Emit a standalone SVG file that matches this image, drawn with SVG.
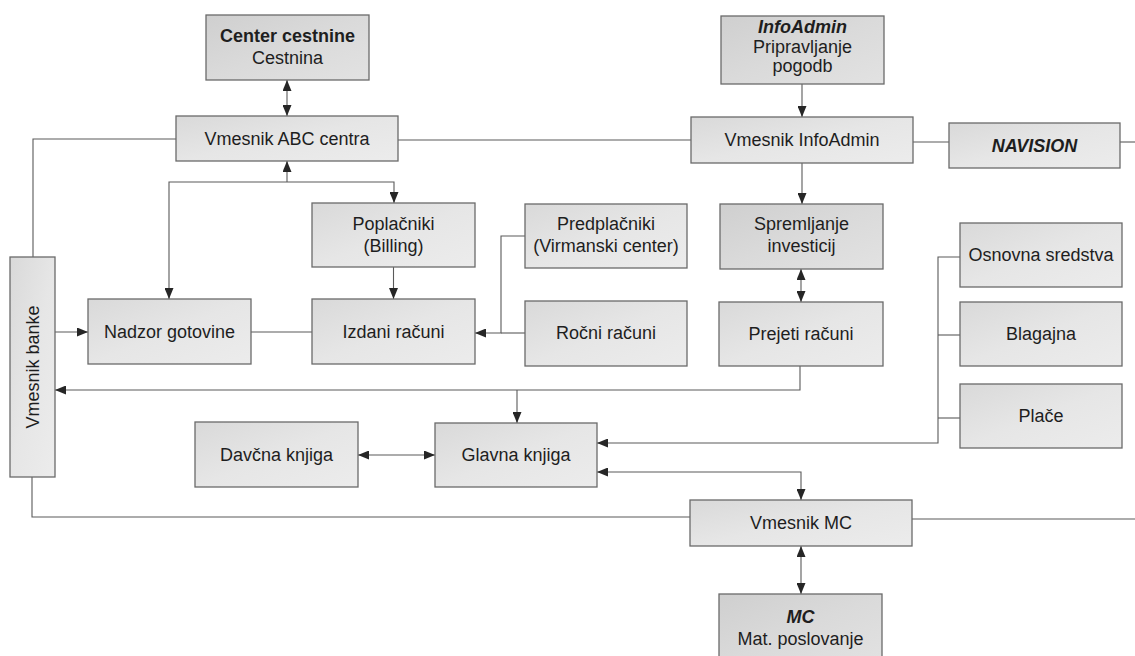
<svg xmlns="http://www.w3.org/2000/svg" width="1135" height="656" viewBox="0 0 1135 656">
  <defs>
    <linearGradient id="boxFill" x1="0" y1="0" x2="1" y2="1">
      <stop offset="0" stop-color="#d9d9d9"/>
      <stop offset="0.5" stop-color="#e6e6e6"/>
      <stop offset="1" stop-color="#ececec"/>
    </linearGradient>
    <linearGradient id="boxFillDark" x1="0" y1="0" x2="1" y2="1">
      <stop offset="0" stop-color="#cfcfcf"/>
      <stop offset="0.5" stop-color="#dadada"/>
      <stop offset="1" stop-color="#e2e2e2"/>
    </linearGradient>
    <marker id="arrow" viewBox="0 0 11 9" refX="11" refY="4.5" markerWidth="11" markerHeight="9" markerUnits="userSpaceOnUse" orient="auto-start-reverse">
      <path d="M0,0 L11,4.5 L0,9 z" fill="#262626"/>
    </marker>
    <style>
      .box { fill: url(#boxFill); stroke: #6a6a6a; stroke-width: 1.3; }
      .box.dark { fill: url(#boxFillDark); }
      .lbl { font-family: "Liberation Sans", Arial, sans-serif; font-size: 18px; fill: #1e1e1e; text-anchor: middle; }
      .b { font-weight: bold; }
      .bi { font-weight: bold; font-style: italic; }
      .wire { fill: none; stroke: #5a5a5a; stroke-width: 1.1; }
      .to { marker-end: url(#arrow); }
      .both { marker-start: url(#arrow); marker-end: url(#arrow); }
    </style>
  </defs>

  <rect width="1135" height="656" fill="#ffffff"/>

  <!-- connectors -->
  <g id="connectors">
    <path class="wire both" d="M287,80 V116"/>
    <path class="wire" d="M33,257 V139 H176"/>
    <path class="wire" d="M398,140 H691"/>
    <path class="wire to" d="M802,84 V117"/>
    <path class="wire" d="M913,142 H949"/>
    <path class="wire" d="M1120,142 H1135"/>
    <path class="wire to" d="M287,182 V161"/>
    <path class="wire both" d="M169,299 V182 H394 V203"/>
    <path class="wire to" d="M393.5,267 V299"/>
    <path class="wire to" d="M55,332 H88"/>
    <path class="wire" d="M251,332 H312"/>
    <path class="wire to" d="M525,236 H501 V333 H475"/>
    <path class="wire" d="M525,333 H501"/>
    <path class="wire to" d="M802,163 V204"/>
    <path class="wire both" d="M801,269 V302"/>
    <path class="wire to" d="M800,366 V390 H55"/>
    <path class="wire to" d="M517,390 V423"/>
    <path class="wire to" d="M960,257 H938 V443 H597"/>
    <path class="wire" d="M960,335 H938"/>
    <path class="wire" d="M960,418 H938"/>
    <path class="wire both" d="M358,455 H435"/>
    <path class="wire both" d="M597,472 H801 V500"/>
    <path class="wire both" d="M801,546 V594"/>
    <path class="wire" d="M32,477 V517 H690"/>
    <path class="wire" d="M912,519 H1135"/>
  </g>

  <!-- nodes -->
  <g id="center-cestnine">
    <rect class="box dark" x="206" y="15" width="163" height="65"/>
    <text class="lbl b" x="287.5" y="42">Center cestnine</text>
    <text class="lbl" x="287.5" y="64">Cestnina</text>
  </g>
  <g id="vmesnik-abc">
    <rect class="box" x="176" y="116" width="222" height="45"/>
    <text class="lbl" x="287" y="145">Vmesnik ABC centra</text>
  </g>
  <g id="infoadmin">
    <rect class="box dark" x="721" y="16" width="163" height="68"/>
    <text class="lbl bi" x="802.5" y="33">InfoAdmin</text>
    <text class="lbl" x="802.5" y="53">Pripravljanje</text>
    <text class="lbl" x="802.5" y="72">pogodb</text>
  </g>
  <g id="vmesnik-infoadmin">
    <rect class="box" x="691" y="117" width="222" height="46"/>
    <text class="lbl" x="802" y="146">Vmesnik InfoAdmin</text>
  </g>
  <g id="navision">
    <rect class="box" x="949" y="123" width="171" height="45"/>
    <text class="lbl bi" x="1034.5" y="152">NAVISION</text>
  </g>
  <g id="poplacniki">
    <rect class="box" x="312" y="203" width="163" height="64"/>
    <text class="lbl" x="393.5" y="230">Poplačniki</text>
    <text class="lbl" x="393.5" y="252">(Billing)</text>
  </g>
  <g id="predplacniki">
    <rect class="box" x="525" y="204" width="162" height="64"/>
    <text class="lbl" x="606" y="230">Predplačniki</text>
    <text class="lbl" x="606" y="252">(Virmanski center)</text>
  </g>
  <g id="spremljanje">
    <rect class="box dark" x="720" y="204" width="163" height="65"/>
    <text class="lbl" x="801.5" y="230">Spremljanje</text>
    <text class="lbl" x="801.5" y="252">investicij</text>
  </g>
  <g id="osnovna-sredstva">
    <rect class="box" x="960" y="223" width="162" height="64"/>
    <text class="lbl" x="1041" y="261">Osnovna sredstva</text>
  </g>
  <g id="vmesnik-banke">
    <rect class="box" x="10" y="257" width="45" height="220"/>
    <text class="lbl" transform="translate(39,367) rotate(-90)">Vmesnik banke</text>
  </g>
  <g id="nadzor-gotovine">
    <rect class="box" x="88" y="299" width="163" height="65"/>
    <text class="lbl" x="169.5" y="338">Nadzor gotovine</text>
  </g>
  <g id="izdani-racuni">
    <rect class="box" x="312" y="299" width="163" height="65"/>
    <text class="lbl" x="393.5" y="338">Izdani računi</text>
  </g>
  <g id="rocni-racuni">
    <rect class="box" x="525" y="301" width="162" height="65"/>
    <text class="lbl" x="606" y="339">Ročni računi</text>
  </g>
  <g id="prejeti-racuni">
    <rect class="box" x="719" y="302" width="164" height="64"/>
    <text class="lbl" x="801" y="340">Prejeti računi</text>
  </g>
  <g id="blagajna">
    <rect class="box" x="960" y="302" width="162" height="64"/>
    <text class="lbl" x="1041" y="340">Blagajna</text>
  </g>
  <g id="place">
    <rect class="box" x="960" y="384" width="162" height="64"/>
    <text class="lbl" x="1041" y="422">Plače</text>
  </g>
  <g id="davcna-knjiga">
    <rect class="box" x="195" y="422" width="163" height="65"/>
    <text class="lbl" x="276.5" y="461">Davčna knjiga</text>
  </g>
  <g id="glavna-knjiga">
    <rect class="box" x="435" y="423" width="162" height="64"/>
    <text class="lbl" x="516" y="461">Glavna knjiga</text>
  </g>
  <g id="vmesnik-mc">
    <rect class="box" x="690" y="500" width="222" height="46"/>
    <text class="lbl" x="801" y="529">Vmesnik MC</text>
  </g>
  <g id="mc">
    <rect class="box dark" x="719" y="594" width="163" height="72"/>
    <text class="lbl bi" x="800.5" y="623">MC</text>
    <text class="lbl" x="800.5" y="645">Mat. poslovanje</text>
  </g>
</svg>
